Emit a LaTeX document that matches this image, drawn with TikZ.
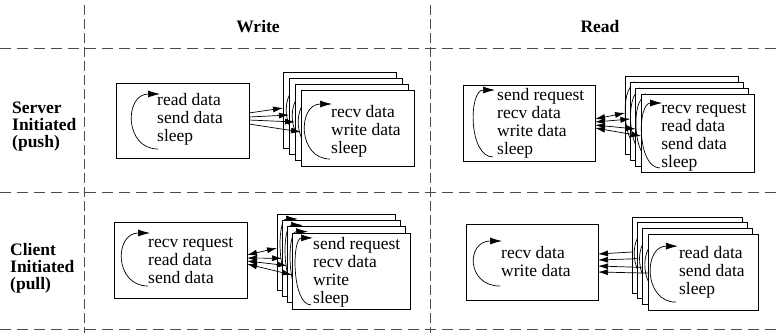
\documentclass[tikz,border=0pt]{standalone}
\usepackage{fontspec}
\setmainfont{Liberation Serif}
\usetikzlibrary{arrows.meta}

\tikzset{
  grid/.style={draw=black!70, line width=0.8pt, dash pattern=on 11pt off 6pt},
  vgrid/.style={draw=black!70, line width=0.8pt, dash pattern=on 10pt off 4pt},
  box/.style={draw, fill=white, line width=0.8pt, inner sep=0pt, outer sep=0pt,
    anchor=north west, minimum height=76pt},
  txt/.style={align=left, anchor=base west, inner sep=0pt,
    font=\fontsize{17.5}{18}\selectfont},
  head/.style={inner sep=0pt, font=\fontsize{17.5}{17}\selectfont\bfseries},
  flow/.style={line width=0.7pt, -{Latex[length=10pt,width=6pt]}},
  both/.style={line width=0.7pt, {Latex[length=10pt,width=6pt]}-{Latex[length=10pt,width=6pt]}},
  pics/cyc/.style 2 args={code={
    \draw[line width=0.7pt, -{Latex[length=12pt,width=7pt]}]
      (-2,#2) .. controls (-1.33*#1,#2) and (-1.33*#1,0) .. (0,0);}}
}

\begin{document}
\begin{tikzpicture}[x=1pt, y=-1pt]
  \useasboundingbox (0,0) rectangle (778,333);

  % table lines
  \draw[grid] (0,48) -- (778,48);
  \draw[grid] (0,192) -- (778,192);
  \draw[grid] (0,329) -- (778,329);
  \draw[vgrid] (84,5) -- (84,333);
  \draw[vgrid] (430,5) -- (430,333);

  % headings
  \node[head] (wh) at (258,27) {Write};
  \node[head] (rh) at (600,27) {Read};
  \node[head, align=left, anchor=west] (push) at (12,127) {Server\\Initiated\\(push)};
  \node[head, align=left, anchor=west] (pull) at (10,268) {Client\\Initiated\\(pull)};

  % server initiated, write (text nodes sit on their last baseline)
  \node[box, minimum width=133pt, minimum height=75pt] (swl) at (116,83) {};
  \node[txt] (swlt) at (157,141) {read data\\send data\\sleep};
  \pic at (160,94) {cyc={27}{55}};
  \foreach \i in {1,...,4}{
    \node[box, minimum width=113pt] (sws\i) at ({283+6*(\i-1)},{72+6*(\i-1)}) {};
    \pic at ([shift={(31,14)}]sws\i.north west) {cyc={26}{55}};
  }
  \node[txt] (swst) at ([shift={(30,63)}]sws4.north west) {recv data\\write data\\sleep};
  \foreach \i/\a/\b in {1/30/36, 2/34/37, 3/37/38, 4/41/42}
    \draw[flow] ([shift={(0,\a)}]swl.north east) -- ([shift={(0,\b)}]sws\i.north west);

  % server initiated, read
  \node[box, minimum width=132pt] (srl) at (463,85) {};
  \node[txt] (srlt) at (497,154) {send request\\recv data\\write data\\sleep};
  \pic at (495,90) {cyc={20}{67}};
  \foreach \i in {1,...,4}{
    \node[box, minimum width=113pt, minimum height=78pt] (srs\i) at ({625+5.4*(\i-1)},{76+6*(\i-1)}) {};
    \pic at ([shift={(21,9)}]srs\i.north west) {cyc={19}{65}};
  }
  \node[txt] (srst) at ([shift={(20,73)}]srs4.north west) {recv request\\read data\\send data\\sleep};
  \foreach \i/\a/\b in {1/34/37, 2/37/37, 3/40/41, 4/43/42}
    \draw[both] ([shift={(0,\a)}]srl.north east) -- ([shift={(0,\b)}]srs\i.north west);

  % client initiated, write
  \node[box, minimum width=133pt] (cwl) at (114,222) {};
  \node[txt] (cwlt) at (148,283) {recv request\\read data\\send data};
  \pic at (150,233) {cyc={27}{53}};
  \foreach \i in {1,...,4}{
    \node[box, minimum width=118pt] (cws\i) at ({277+5*(\i-1)},{214+6.3*(\i-1)}) {};
    \pic at ([shift={(21,5)}]cws\i.north west) {cyc={16}{67}};
  }
  \node[txt] (cwst) at ([shift={(21,71)}]cws4.north west) {send request\\recv data\\write\\sleep};
  \foreach \i/\a/\b in {1/33/34, 2/36/38, 3/39/39, 4/42/42}
    \draw[both] ([shift={(0,\a)}]cwl.north east) -- ([shift={(0,\b)}]cws\i.north west);

  % client initiated, read
  \node[box, minimum width=132pt] (crl) at (466,224) {};
  \node[txt] (crlt) at (501,276) {recv data\\write data};
  \pic at (502,241) {cyc={27}{45}};
  \foreach \i in {1,...,4}{
    \node[box, minimum width=110pt] (crs\i) at ({632+5.3*(\i-1)},{217+5.7*(\i-1)}) {};
    \pic at ([shift={(30,12)}]crs\i.north west) {cyc={26}{56}};
  }
  \node[txt] (crst) at ([shift={(31,60)}]crs4.north west) {read data\\send data\\sleep};
  \foreach \i/\a/\b in {1/30/35, 2/36/36, 3/42/39, 4/48/39}
    \draw[flow] ([shift={(0,\b)}]crs\i.north west) -- ([shift={(0,\a)}]crl.north east);
\end{tikzpicture}
\end{document}
